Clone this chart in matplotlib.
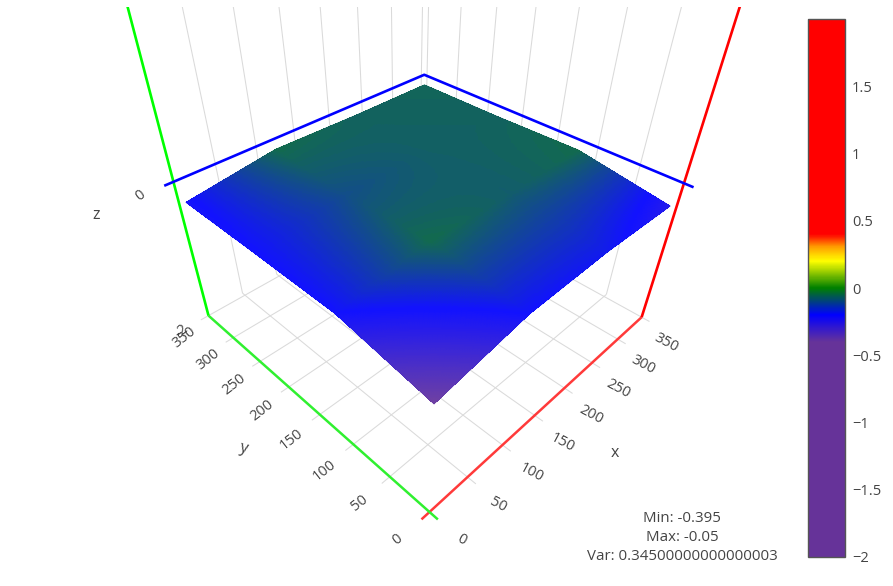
import numpy as np
import matplotlib
matplotlib.use("Agg")
import matplotlib.pyplot as plt
from matplotlib.colors import LinearSegmentedColormap, Normalize
from matplotlib.cm import ScalarMappable
from matplotlib.transforms import Bbox
from mpl_toolkits.mplot3d import proj3d
from mpl_toolkits.mplot3d.art3d import Line3DCollection

plt.rcParams['font.family'] = ['Open Sans', 'DejaVu Sans']

# ---- data ----
surface_x = [2, 112.5, 225, 337.5]
surface_y = [2, 112.5, 225, 337.5]
# rows follow x, columns follow y
surface_z = [
    [-0.395, -0.20, -0.20, -0.21],
    [-0.20, -0.05, -0.10, -0.05],
    [-0.185, -0.075, -0.07, -0.065],
    [-0.24, -0.05, -0.065, -0.06],
]
x_ticks = [0, 50, 100, 150, 200, 250, 300, 350]
y_ticks = [0, 50, 100, 150, 200, 250, 300, 350]
z_ticks = [-2, 0]
z_tick_labels = ['-2', '0']
cbar_ticks = [-2, -1.5, -1, -0.5, 0, 0.5, 1, 1.5]
cbar_labels = ['\u22122', '\u22121.5', '\u22121', '\u22120.5', '0', '0.5', '1', '1.5']
c_stops = [-2, -0.4, -0.2, 0, 0.2, 0.3, 0.4, 2]
c_colors = ['#663399', '#663399', '#0000ff', '#008000', '#ffff00', '#ffa500', '#ff0000', '#ff0000']
stats = ['Min: -0.395', 'Max: -0.05', 'Var: 0.34500000000000003']

W, H = 893, 586
Z_MIN, Z_MAX = -2, 2
AX_LO = -10
WALL = 355
TXT = '#444444'

fig = plt.figure(figsize=(W / 100, H / 100), dpi=100, facecolor='white')

# ---- 3D scene ----
S = 574
PX, PY = 405, 292   # pixel of the view centre
left = PX - 0.5135 * S
bottom = (H - PY) - 0.5135 * S
ax = fig.add_axes([left / W, bottom / H, S / W, S / H], projection='3d',
                  computed_zorder=False)
ax.set_axis_off()
ax.patch.set_alpha(0)
ax.set_proj_type('persp', focal_length=682 * 0.185 / S)
ax.view_init(elev=41.4, azim=-134.7)
ax.set_box_aspect((1, 1, 1), zoom=0.8867)

clip = Bbox([[0, 0], [W, H - 6.5]])


def line(xs, ys, zs, color, lw, z):
    ln, = ax.plot(xs, ys, zs, color=color, lw=lw, zorder=z, solid_capstyle='butt')
    ln.set_clip_path(None)
    ln.set_clip_box(clip)
    return ln


GRID = '#dadada'
for xv in x_ticks[1:]:
    line([xv, xv], [AX_LO, WALL], [Z_MIN, Z_MIN], GRID, 0.75, 1)
    line([xv, xv], [WALL, WALL], [Z_MIN, Z_MAX], GRID, 0.75, 1)
for yv in y_ticks[1:]:
    line([AX_LO, WALL], [yv, yv], [Z_MIN, Z_MIN], GRID, 0.75, 1)
    line([WALL, WALL], [yv, yv], [Z_MIN, Z_MAX], GRID, 0.75, 1)

# surface, drawn with a fine mesh so that colour runs smoothly across each cell
sx = np.array(surface_x)
sy = np.array(surface_y)
sz = np.array(surface_z)
fx = np.linspace(sx[0], sx[-1], 241)
fy = np.linspace(sy[0], sy[-1], 241)
col_y = np.array([np.interp(fy, sy, row) for row in sz])
fine = np.array([np.interp(fx, sx, col_y[:, j]) for j in range(fy.size)]).T
FX, FY = np.meshgrid(fx, fy, indexing='ij')

stops01 = [(v - c_stops[0]) / (c_stops[-1] - c_stops[0]) for v in c_stops]
cmap = LinearSegmentedColormap.from_list('scale', list(zip(stops01, c_colors)), N=1024)
norm = Normalize(c_stops[0], c_stops[-1])


def lit(values):
    out = cmap(norm(values))
    out[..., :3] = out[..., :3] * 0.93 + 0.07
    return out


mid = 0.25 * (fine[:-1, :-1] + fine[1:, :-1] + fine[:-1, 1:] + fine[1:, 1:])
rgba = lit(mid)
surf = ax.plot_surface(FX, FY, fine, facecolors=rgba, rstride=1, cstride=1,
                       shade=False, linewidth=0, antialiased=False, zorder=2)
surf.set_clip_path(None)
surf.set_clip_box(clip)

# smooth rim along the four sides of the surface
rim_pts = [np.column_stack([FX[0], FY[0], fine[0]]),
           np.column_stack([FX[-1], FY[-1], fine[-1]]),
           np.column_stack([FX[:, 0], FY[:, 0], fine[:, 0]]),
           np.column_stack([FX[:, -1], FY[:, -1], fine[:, -1]])]
rim_segs = np.concatenate([np.stack([p[:-1], p[1:]], axis=1) for p in rim_pts])
rim = Line3DCollection(rim_segs, colors=lit(rim_segs[:, :, 2].mean(axis=1)),
                       linewidths=0.7, zorder=2.5, capstyle='round')
ax.add_collection3d(rim, autolim=False)

# axis lines
line([AX_LO, 350], [0, 0], [Z_MIN, Z_MIN], '#ff3a3a', 1.8, 3)
line([350, 350], [0, 0], [Z_MIN, Z_MAX], '#ff0000', 1.9, 3)
line([0, 0], [AX_LO, 350], [Z_MIN, Z_MIN], '#30f030', 1.8, 3)
line([0, 0], [350, 350], [Z_MIN, Z_MAX], '#00ff00', 1.9, 3)
line([AX_LO, 350, 350], [350, 350, AX_LO], [0, 0, 0], '#0000ff', 1.9, 3)

ax.set_xlim(188.6 - 180, 188.6 + 180, view_margin=0)
ax.set_ylim(220.9 - 180, 220.9 + 180, view_margin=0)
ax.set_zlim(-2 - 2.015, -2 + 2.015, view_margin=0)
ax.set_xticks([])
ax.set_yticks([])
ax.set_zticks([])
M = ax.get_proj()


def label(x, y, z, s, size, rotation=0):
    px, py, _ = proj3d.proj_transform(x, y, z, M)
    ax.text2D(px, py, s, transform=ax.transData, color=TXT, fontsize=size,
              rotation=rotation, ha='center', va='center',
              rotation_mode='anchor', clip_on=False)


# tick labels
for xv in x_ticks:
    label(0.951 * xv, -37 - 3 * xv / 350, Z_MIN, str(xv), 10.5, -28)
for yv in y_ticks:
    label(-38, 1 + 0.966 * yv, Z_MIN, str(yv), 10.5, 38)
for zv, zs in zip(z_ticks, z_tick_labels):
    label(-35, 350, zv, zs, 10.5, 38)
label(168, -80, Z_MIN, 'x', 11.5)
label(-77, 170, Z_MIN, 'y', 11.5, -15)
label(-79, 350, 0, 'z', 11.5)

# ---- colour bar ----
cax = fig.add_axes([807.5 / W, (H - 557) / H, 37.5 / W, 538 / H])
cb = fig.colorbar(ScalarMappable(norm=norm, cmap=cmap), cax=cax)
cb.set_ticks(cbar_ticks, labels=cbar_labels)
cb.ax.tick_params(length=0, pad=5, labelsize=10.5, labelcolor=TXT)
cb.outline.set_edgecolor('#555555')
cb.outline.set_linewidth(1)

# ---- annotation ----
for i, s in enumerate(stats):
    fig.text(682 / W, (H - (518 + 19.5 * i)) / H, s, color=TXT, fontsize=10.8,
             ha='center', va='center')

fig.savefig('out.png', dpi=100)
